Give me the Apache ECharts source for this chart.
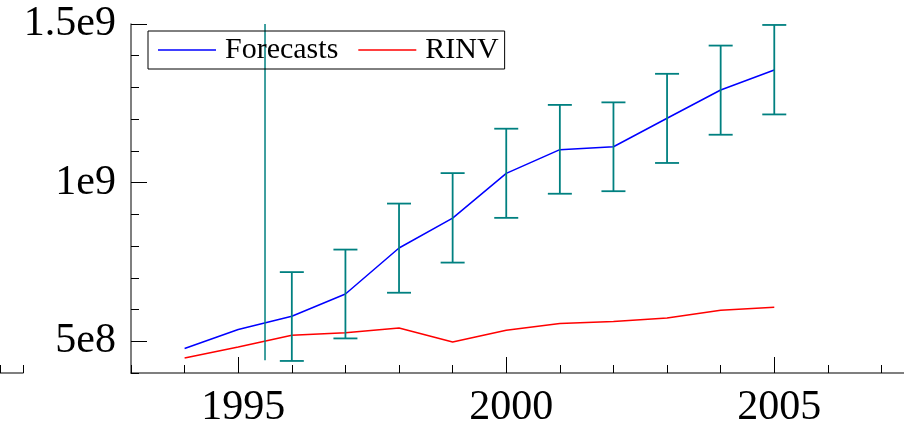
<!DOCTYPE html>
<html><head><meta charset="utf-8">
<script src="https://cdn.jsdelivr.net/npm/echarts@6/dist/echarts.min.js"></script>
<style>html,body{margin:0;padding:0;background:#fff}#c{width:904px;height:434px}</style>
</head><body><div id="c"></div>
<script>
const years = [1994,1995,1996,1997,1998,1999,2000,2001,2002,2003,2004,2005];
const forecasts = [477e6,537e6,579e6,649e6,794e6,888e6,1029e6,1104e6,1113e6,1203e6,1292e6,1355e6];
const rinv = [447e6,482e6,519e6,527e6,542e6,498e6,535e6,556e6,562e6,573e6,598e6,607e6];
const errYears = [1996,1997,1998,1999,2000,2001,2002,2003,2004,2005];
const errLow = [438e6,509e6,653e6,748e6,889e6,965e6,973e6,1062e6,1151e6,1215e6];
const errHigh = [718e6,789e6,934e6,1030e6,1170e6,1245e6,1253e6,1343e6,1432e6,1497e6];
const vlineX = [1995.5,1995.5];
const vlineY = [440e6,1500e6];
const xTickValues = [1995,2000,2005];
const xTickLabels = ['1995','2000','2005'];
const yTickValues = [5e8,1e9,1.5e9];
const yTickLabels = ['5e8','1e9','1.5e9'];

const FONT = "'Liberation Serif','DejaVu Serif',serif";
const AXIS_LINE = {show:true, lineStyle:{color:'#555', width:1.5}};
const TEAL = '#008080';

const chart = echarts.init(document.getElementById('c'), null, {renderer:'canvas'});
chart.setOption({
  animation:false,
  backgroundColor:'#fff',
  grid:[
    {left:131, top:24, right:0, bottom:61},
    {left:-30.6, width:53.6, top:24, bottom:61}
  ],
  legend:{
    data:['Forecasts','RINV'],
    left:148, top:31,
    icon:'rect',
    itemWidth:58, itemHeight:1.6, itemGap:20,
    padding:[4,6,4,10],
    borderColor:'#000', borderWidth:1, borderRadius:0,
    backgroundColor:'transparent',
    textStyle:{fontFamily:FONT, fontSize:30, color:'#000', padding:[0,0,0,4], lineHeight:30}
  },
  xAxis:[
    {type:'value', gridIndex:0, position:'bottom', min:1993, max:2007.42, interval:1,
     axisLine:AXIS_LINE,
     axisTick:{show:true, inside:true, length:8, lineStyle:{color:'#000', width:1}},
     axisLabel:{show:true, customValues:xTickValues,
       formatter:v=>xTickLabels[xTickValues.indexOf(v)] ?? '',
       fontFamily:FONT, fontSize:42, color:'#000', margin:14, padding:[0,0,0,10]},
     splitLine:{show:false}},
    {type:'value', gridIndex:0, position:'bottom', min:1993, max:2007.42,
     axisLine:{show:false},
     axisTick:{show:true, inside:true, length:16, customValues:xTickValues, lineStyle:{color:'#000', width:1}},
     axisLabel:{show:false}, splitLine:{show:false}},
    {type:'value', gridIndex:1, position:'bottom', min:1990, max:1991, interval:1,
     axisLine:AXIS_LINE,
     axisTick:{show:true, inside:true, length:8, lineStyle:{color:'#000', width:1}},
     axisLabel:{show:false}, splitLine:{show:false}}
  ],
  yAxis:[
    {type:'value', gridIndex:0, position:'left', min:4e8, max:1.5e9, interval:1e8,
     axisLine:AXIS_LINE,
     axisTick:{show:true, inside:true, length:8, lineStyle:{color:'#000', width:1}},
     axisLabel:{show:true, customValues:yTickValues,
       formatter:v=>yTickLabels[yTickValues.indexOf(v)] ?? '',
       fontFamily:FONT, fontSize:42, color:'#000', margin:15},
     splitLine:{show:false}},
    {type:'value', gridIndex:0, position:'left', min:4e8, max:1.5e9,
     axisLine:{show:false},
     axisTick:{show:true, inside:true, length:16, customValues:yTickValues, lineStyle:{color:'#000', width:1}},
     axisLabel:{show:false}, splitLine:{show:false}},
    {type:'value', gridIndex:1, show:false, min:0, max:1}
  ],
  series:[
    {name:'vline', type:'line', xAxisIndex:0, yAxisIndex:0, symbol:'none',
     data:vlineX.map((x,i)=>[x, vlineY[i]]),
     lineStyle:{color:TEAL, width:1.5}, itemStyle:{color:TEAL}, z:3},
    {name:'Forecasts', type:'line', xAxisIndex:0, yAxisIndex:0, symbol:'none',
     data:years.map((y,i)=>[y, forecasts[i]]),
     lineStyle:{color:'#0000ff', width:1.5}, itemStyle:{color:'#0000ff'}, z:2},
    {name:'RINV', type:'line', xAxisIndex:0, yAxisIndex:0, symbol:'none',
     data:years.map((y,i)=>[y, rinv[i]]),
     lineStyle:{color:'#ff0000', width:1.5}, itemStyle:{color:'#ff0000'}, z:2},
    {name:'err', type:'custom', xAxisIndex:0, yAxisIndex:0, z:4,
     data:errYears.map((y,i)=>[y, errLow[i], errHigh[i]]),
     encode:{x:0, y:[1,2]},
     renderItem:(params, api)=>{
       const x = api.value(0), lo = api.value(1), hi = api.value(2);
       const a = api.coord([x, lo]), b = api.coord([x, hi]);
       const hw = 12;
       const style = {stroke:TEAL, lineWidth:1.8, fill:null};
       return {type:'group', children:[
         {type:'line', shape:{x1:a[0], y1:a[1], x2:b[0], y2:b[1]}, style},
         {type:'line', shape:{x1:a[0]-hw, y1:a[1], x2:a[0]+hw, y2:a[1]}, style},
         {type:'line', shape:{x1:b[0]-hw, y1:b[1], x2:b[0]+hw, y2:b[1]}, style}
       ]};
     }}
  ]
});
</script></body></html>
